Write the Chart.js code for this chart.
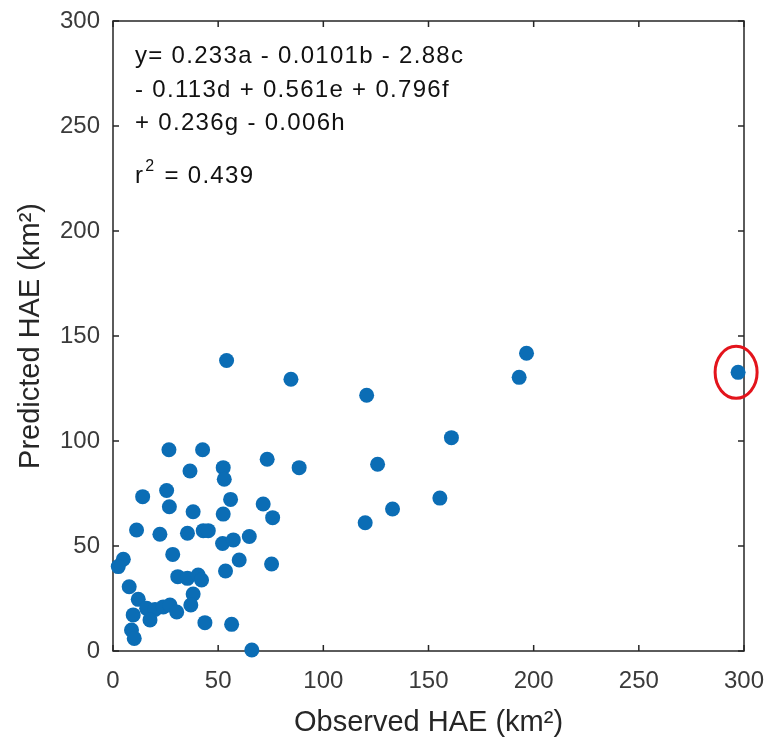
<!DOCTYPE html>
<html>
<head>
<meta charset="utf-8">
<script src="https://cdn.jsdelivr.net/npm/chart.js@4/dist/chart.umd.min.js"></script>
<style>
  html, body { margin: 0; padding: 0; background: #fff; }
  canvas { display: block; }
</style>
</head>
<body>
<canvas id="chart" width="768" height="742"></canvas>
<script>
// observed vs predicted HAE (km2)
const observed = [26.6, 42.6, 36.6, 52.4, 52.9, 73.3, 88.5, 14.1, 25.5, 26.8,
    38.1, 55.9, 52.4, 71.4, 75.9, 11.2, 22.3, 35.4, 42.9, 45.3,
    52.1, 57.2, 64.8, 28.4, 4.9, 2.5, 60.0, 75.4, 53.5, 30.8,
    35.4, 40.5, 42.1, 7.7, 38.1, 37.0, 12.0, 16.0, 20.0, 23.9,
    27.1, 30.3, 17.6, 9.6, 8.8, 10.1, 43.7, 56.4, 66.0,
    54.0, 84.6, 120.6, 196.6, 193.1, 160.9, 125.8, 155.4, 132.9, 119.9];
const predicted = [95.8, 95.8, 85.7, 87.3, 81.8, 91.3, 87.3, 73.5, 76.4, 68.7,
    66.3, 72.2, 65.2, 70.0, 63.5, 57.6, 55.6, 56.1, 57.3, 57.3,
    51.2, 52.9, 54.5, 46.0, 43.7, 40.2, 43.3, 41.4, 38.1, 35.4,
    34.6, 36.2, 33.8, 30.6, 27.1, 21.9, 24.6, 20.3, 19.8, 21.0,
    21.9, 18.6, 14.8, 17.2, 10.0, 6.0, 13.5, 12.7, 0.5,
    138.3, 129.4, 121.8, 141.8, 130.3, 101.6, 88.9, 72.8, 67.6, 61.1];
// the circled point
const outlierX = [297.2];
const outlierY = [132.7];

const axisMin = 0;
const axisMax = 300;
const tickStep = 50;

const equationLines = [
    'y= 0.233a - 0.0101b - 2.88c',
    '- 0.113d + 0.561e + 0.796f',
    '+ 0.236g - 0.006h'
];
const rSquared = '0.439';

const dotColor = '#0b6db5';
const axisColor = '#262626';
const font = "'Liberation Sans', Arial, sans-serif";

function toPoints(xs, ys){
    return xs.map((x, i) => ({x: x, y: ys[i]}));
}

// MATLAB style box with inward ticks on all four sides
const boxPlugin = {
    id: 'box',
    beforeDatasetsDraw(chart){
        const {ctx, chartArea: a, scales} = chart;
        ctx.save();
        ctx.strokeStyle = axisColor;
        ctx.lineWidth = 1.5;
        ctx.strokeRect(a.left, a.top, a.right - a.left, a.bottom - a.top);
        const len = 6;
        ctx.beginPath();
        scales.x.ticks.forEach(t => {
            const px = scales.x.getPixelForValue(t.value);
            ctx.moveTo(px, a.bottom); ctx.lineTo(px, a.bottom - len);
            ctx.moveTo(px, a.top); ctx.lineTo(px, a.top + len);
        });
        scales.y.ticks.forEach(t => {
            const py = scales.y.getPixelForValue(t.value);
            ctx.moveTo(a.left, py); ctx.lineTo(a.left + len, py);
            ctx.moveTo(a.right, py); ctx.lineTo(a.right - len, py);
        });
        ctx.stroke();
        ctx.restore();
    },
    afterDraw(chart){
        const {ctx, chartArea: a, scales} = chart;
        ctx.save();
        // equation text
        ctx.fillStyle = '#111';
        ctx.font = '24px ' + font;
        ctx.letterSpacing = '1.3px';
        ctx.textBaseline = 'alphabetic';
        const x0 = a.left + 22;
        equationLines.forEach((line, i) => {
            ctx.fillText(line, x0, a.top + 42 + i * 33.5);
        });
        const by = a.top + 162;
        ctx.fillText('r', x0, by);
        const rw = ctx.measureText('r').width;
        ctx.font = '16px ' + font;
        ctx.fillText('2', x0 + rw + 1, by - 12);
        const sw = ctx.measureText('2').width;
        ctx.font = '24px ' + font;
        ctx.fillText(' = ' + rSquared, x0 + rw + sw + 2, by);

        // red ring around the outlier
        const cx = scales.x.getPixelForValue(outlierX[0]) - 2;
        const cy = scales.y.getPixelForValue(outlierY[0]);
        ctx.letterSpacing = '0px';
        ctx.strokeStyle = '#e3141c';
        ctx.lineWidth = 3;
        ctx.beginPath();
        ctx.ellipse(cx, cy, 21, 26, 0, 0, Math.PI * 2);
        ctx.stroke();
        ctx.restore();
    }
};

const tickFont = {family: font, size: 24};
const titleFont = {family: font, size: 29};

new Chart(document.getElementById('chart'), {
    type: 'scatter',
    data: {
        datasets: [{
            data: toPoints(observed, predicted),
            backgroundColor: dotColor,
            borderColor: dotColor,
            pointRadius: 7.5,
            borderWidth: 0,
            clip: false
        }, {
            data: toPoints(outlierX, outlierY),
            backgroundColor: dotColor,
            borderColor: dotColor,
            pointRadius: 7.5,
            borderWidth: 0,
            clip: false
        }]
    },
    options: {
        responsive: false,
        animation: false,
        devicePixelRatio: 1,
        layout: {
            padding: {top: 21, right: 24, bottom: 0, left: 0}
        },
        plugins: {
            legend: {display: false},
            tooltip: {enabled: false}
        },
        scales: {
            x: {
                type: 'linear',
                min: axisMin,
                max: axisMax,
                grid: {display: false},
                border: {display: false},
                ticks: {
                    stepSize: tickStep,
                    color: '#3a3a3a',
                    font: tickFont,
                    padding: 8,
                    maxRotation: 0
                },
                title: {
                    display: true,
                    text: 'Observed HAE (km²)',
                    color: axisColor,
                    font: titleFont,
                    padding: {top: 0, bottom: 2}
                },
                afterFit(scale){
                    scale.height = 91;
                    scale.paddingLeft = 0;
                    scale.paddingRight = 0;
                }
            },
            y: {
                type: 'linear',
                min: axisMin,
                max: axisMax,
                grid: {display: false},
                border: {display: false},
                ticks: {
                    stepSize: tickStep,
                    color: '#3a3a3a',
                    font: tickFont,
                    padding: 5
                },
                title: {
                    display: true,
                    text: 'Predicted HAE (km²)',
                    color: axisColor,
                    font: titleFont,
                    padding: {top: 14, bottom: 0}
                },
                afterFit(scale){
                    scale.width = 113;
                    scale.paddingTop = 0;
                    scale.paddingBottom = 0;
                }
            }
        }
    },
    plugins: [boxPlugin]
});
</script>
</body>
</html>
